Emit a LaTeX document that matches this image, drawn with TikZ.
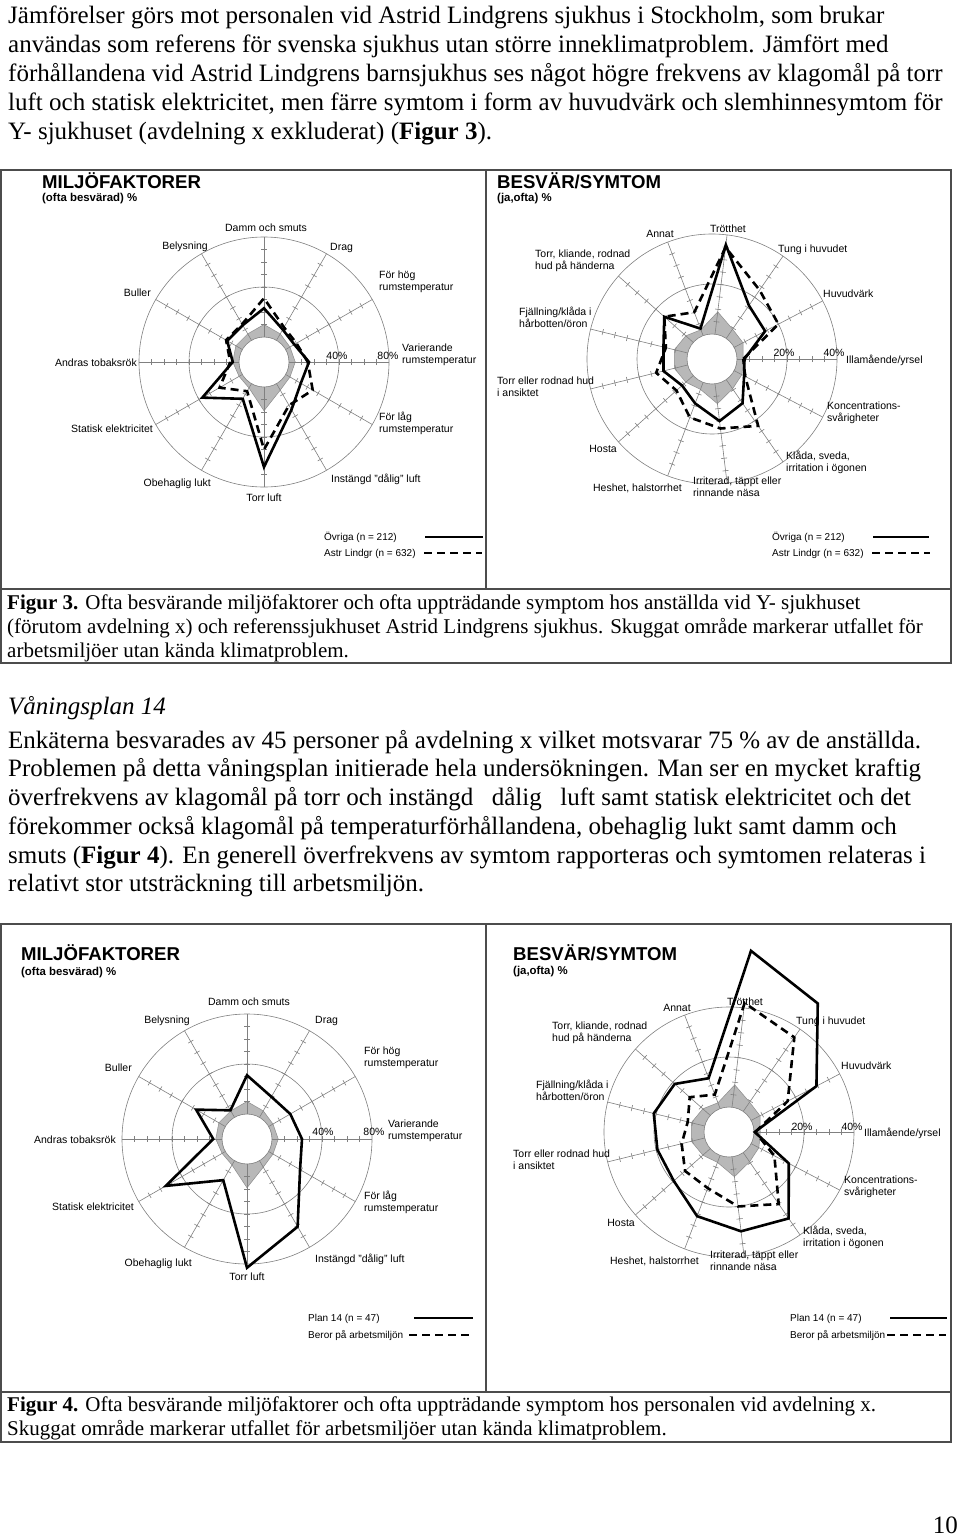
\documentclass[tikz,border=0pt]{standalone}
\usepackage{fontspec}
\setmainfont{Liberation Serif}
\setsansfont{Liberation Sans}
\usetikzlibrary{calc}

% grid of a radar chart: #1 centre, #2 number of axes
\newcommand\rgrid[2]{%
  \pgfmathsetmacro\rstepang{360/#2}%
  \foreach \k in {1,...,#2} {%
    \begin{scope}[shift={(#1)}, rotate={(\k-1)*\rstepang}]
      \draw[gridl] (25pt,0pt) -- (125pt,0pt);
      \foreach \t in {1,...,7} \draw[gridl] ({25+12.5*\t},-3) -- ({25+12.5*\t},3);
    \end{scope}
  }%
  \draw[gridl] (#1) circle (25pt) (#1) circle (75pt) (#1) circle (125pt);%
}
% polygon points: #1 centre, #2 axes, #3 px per unit, #4 prefix, #5 values
\newcommand\rpts[5]{%
  \foreach \v [count=\i from 0] in {#5} {%
    \coordinate (#4\i) at ($(#1)+({\i*360/#2}:{25+#3*\v})$);%
  }%
}

\begin{document}
\begin{tikzpicture}[x=1pt,y=1pt,
  lab/.style={font=\sffamily\fontsize{10.5}{12}\selectfont, inner sep=0pt, align=left},
  leg/.style={font=\sffamily\fontsize{10}{12}\selectfont, inner sep=0pt, anchor=base west},
  ttl/.style={font=\sffamily\bfseries\fontsize{18.6}{20}\selectfont, inner sep=0pt, anchor=base west},
  sub/.style={font=\sffamily\bfseries\fontsize{11.4}{13}\selectfont, inner sep=0pt, anchor=base west},
  gridl/.style={draw=black!50, line width=0.6pt},
  ser/.style={line width=2.6pt, black, line join=miter},
  dsh/.style={line width=2.6pt, black, dash pattern=on 8pt off 5pt},
  shade/.style={fill=black!28, even odd rule},
  shadeline/.style={draw=black!45, line width=0.5pt},
  body/.style={font=\fontsize{25}{29}\selectfont, inner sep=0pt, anchor=base west},
  capt/.style={font=\fontsize{21}{24}\selectfont, inner sep=0pt, anchor=base west},
  boxl/.style={draw=black!70, line width=1.3pt},
]
\useasboundingbox (0,0) rectangle (960,-1537);
\fill[white] (0,0) rectangle (960,-1537);

% ---------------- body text 1
\node[body] (t1) at (8,-23) {Jämförelser görs mot personalen vid Astrid Lindgrens sjukhus i Stockholm, som brukar};
\node[body] (t2) at (8,-52) {användas som referens för svenska sjukhus utan större inneklimatproblem. Jämfört med};
\node[body] (t3) at (8,-81) {förhållandena vid Astrid Lindgrens barnsjukhus ses något högre frekvens av klagomål på torr};
\node[body] (t4) at (8,-110) {luft och statisk elektricitet, men färre symtom i form av huvudvärk och slemhinnesymtom för};
\node[body] (t5) at (8,-139) {Y- sjukhuset (avdelning x exkluderat) (\textbf{Figur 3}).};

% ---------------- figure 3 frame
\draw[boxl] (1,-170) rectangle (951,-663);
\draw[boxl] (1,-589) -- (951,-589);
\draw[boxl] (486,-170) -- (486,-589);

\coordinate (CA) at (264,-362);
\coordinate (CB) at (712,-359);
\coordinate (CC) at (247,-1139);
\coordinate (CD) at (729,-1132);

% ---- chart A (fig 3 left)
% order: Var, Hog, Drag, Damm, Bely, Buller, Andras, Stat, Obeh, Torr, Inst, Lag
\rpts{CA}{12}{1.25}{Ag}{5,4,6,10,6,6,5,3,4,19,6,4}
\rpts{CA}{12}{1.25}{As}{16,8,10,23,14,14,5,37,14,64,24,14}
\rpts{CA}{12}{1.25}{Ad}{15,10,12,31,15,15,7,21,7,50,20,25}
\fill[shade] (Ag0) \foreach \i in {1,...,11} {-- (Ag\i)} -- cycle (CA) circle (25pt);
\draw[shadeline] (Ag0) \foreach \i in {1,...,11} {-- (Ag\i)} -- cycle;
\rgrid{CA}{12}
\draw[dsh] (Ad0) \foreach \i in {1,...,11} {-- (Ad\i)} -- cycle;
\draw[ser] (As0) \foreach \i in {1,...,11} {-- (As\i)} -- cycle;

\node[ttl] (a0) at (42,-188.5) {MILJÖFAKTORER};
\node[sub] (a00) at (42,-201.5) {(ofta besvärad) \%};
\node[lab, anchor=base] (a1) at (266,-231.5) {Damm och smuts};
\node[lab, anchor=base west] (a2) at (330,-250.5) {Drag};
\node[lab, anchor=base east] (a3) at (208,-249.5) {Belysning};
\node[lab, anchor=base east] (a4) at (151,-296.5) {Buller};
\node[lab, anchor=base west] (a5) at (379,-290.5) {För hög\\rumstemperatur};
\node[lab, anchor=base east] (a6) at (137,-366.5) {Andras tobaksrök};
\node[lab, anchor=base] (a7) at (337,-359.5) {40\%};
\node[lab, anchor=base] (a8) at (388,-359.5) {80\%};
\node[lab, anchor=base west] (a9) at (402,-363.5) {Varierande\\rumstemperatur};
\node[lab, anchor=base east] (a10) at (153,-432.5) {Statisk elektricitet};
\node[lab, anchor=base west] (a11) at (379,-432.5) {För låg\\rumstemperatur};
\node[lab, anchor=base east] (a12) at (211,-486.5) {Obehaglig lukt};
\node[lab, anchor=base west] (a13) at (331,-482.5) {Instängd "dålig" luft};
\node[lab, anchor=base] (a14) at (264,-501.5) {Torr luft};

\node[leg] (la1) at (324,-540.5) {Övriga (n = 212)};
\node[leg] (la2) at (324,-556.5) {Astr Lindgr (n = 632)};
\coordinate (la1a) at (425,-537); \coordinate (la1b) at (483,-537);
\coordinate (la2a) at (424,-553); \coordinate (la2b) at (482,-553);
\draw[ser] (la1a) -- (la1b);
\draw[dsh] (la2a) -- (la2b);

% ---- chart B (fig 3 right)
% order: Illa, Huvud, Tung, Trott, Annat, TorrKli, Fjall, TorrAns, Hosta, Heshet, Irri, Klada, Konc
\rpts{CB}{13}{2.5}{Bg}{2.5,4,4.5,9,2.5,4,5.5,5.5,4,3,8,4.5,3.5}
\rpts{CB}{13}{2.5}{Bs}{3,14,16,36,3,15.5,10,10,6,9,15,11.5,4.5}
\rpts{CB}{13}{2.5}{Bd}{2.5,20,23.5,35,10,15.5,9,13,9,15,18,22.5,5}
\fill[shade] (Bg0) \foreach \i in {1,...,12} {-- (Bg\i)} -- cycle (CB) circle (25pt);
\draw[shadeline] (Bg0) \foreach \i in {1,...,12} {-- (Bg\i)} -- cycle;
\rgrid{CB}{13}
\draw[dsh] (Bd0) \foreach \i in {1,...,12} {-- (Bd\i)} -- cycle;
\draw[ser] (Bs0) \foreach \i in {1,...,12} {-- (Bs\i)} -- cycle;

\node[ttl] (b0) at (497,-188.5) {BESVÄR/SYMTOM};
\node[sub] (b00) at (497,-201.5) {(ja,ofta) \%};
\node[lab, anchor=base] (b1) at (728,-232.5) {Trötthet};
\node[lab, anchor=base] (b2) at (660,-237.8) {Annat};
\node[lab, anchor=base west] (b3) at (778,-252.5) {Tung i huvudet};
\node[lab, anchor=base west] (b4) at (535,-269) {Torr, kliande, rodnad\\hud på händerna};
\node[lab, anchor=base west] (b5) at (823,-297.5) {Huvudvärk};
\node[lab, anchor=base west] (b6) at (519,-327.5) {Fjällning/klåda i\\hårbotten/öron};
\node[lab, anchor=base] (b7) at (784,-356) {20\%};
\node[lab, anchor=base] (b8) at (834,-356) {40\%};
\node[lab, anchor=base west] (b9) at (846,-363.5) {Illamående/yrsel};
\node[lab, anchor=base west] (b10) at (497,-396) {Torr eller rodnad hud\\i ansiktet};
\node[lab, anchor=base west] (b11) at (827,-421.5) {Koncentrations-\\svårigheter};
\node[lab, anchor=base east] (b12) at (617,-452.5) {Hosta};
\node[lab, anchor=base west] (b13) at (786,-471) {Klåda, sveda,\\irritation i ögonen};
\node[lab, anchor=base east] (b14) at (682,-491) {Heshet, halstorrhet};
\node[lab, anchor=base west] (b15) at (693,-496) {Irriterad, täppt eller\\rinnande näsa};

\node[leg] (lb1) at (772,-540.5) {Övriga (n = 212)};
\node[leg] (lb2) at (772,-556.5) {Astr Lindgr (n = 632)};
\coordinate (lb1a) at (873,-537); \coordinate (lb1b) at (929,-537);
\coordinate (lb2a) at (872,-553); \coordinate (lb2b) at (930,-553);
\draw[ser] (lb1a) -- (lb1b);
\draw[dsh] (lb2a) -- (lb2b);

\node[capt] (c1) at (7,-609.5) {\textbf{Figur 3.} Ofta besvärande miljöfaktorer och ofta uppträdande symptom hos anställda vid Y- sjukhuset};
\node[capt] (c2) at (7,-633.5) {(förutom avdelning x) och referenssjukhuset Astrid Lindgrens sjukhus. Skuggat område markerar utfallet för};
\node[capt] (c3) at (7,-657.5) {arbetsmiljöer utan kända klimatproblem.};

% ---------------- body text 2
\node[body] (u0) at (8,-714) {\itshape Våningsplan 14};
\node[body] (u1) at (8,-748) {Enkäterna besvarades av 45 personer på avdelning x vilket motsvarar 75 \% av de anställda.};
\node[body] (u2) at (8,-776) {Problemen på detta våningsplan initierade hela undersökningen. Man ser en mycket kraftig};
\node[body] (u3) at (8,-805) {överfrekvens av klagomål på torr och instängd~\hspace{6pt} dålig~\hspace{6pt} luft samt statisk elektricitet och det};
\node[body] (u4) at (8,-834) {förekommer också klagomål på temperaturförhållandena, obehaglig lukt samt damm och};
\node[body] (u5) at (8,-863) {smuts (\textbf{Figur 4}). En generell överfrekvens av symtom rapporteras och symtomen relateras i};
\node[body] (u6) at (8,-891) {relativt stor utsträckning till arbetsmiljön.};

% ---------------- figure 4 frame
\draw[boxl] (1,-924) rectangle (951,-1442);
\draw[boxl] (1,-1392) -- (951,-1392);
\draw[boxl] (486,-924) -- (486,-1392);

% ---- chart C (fig 4 left)
\rpts{CC}{12}{1.25}{Cg}{5,4,6,10,6,6,5,3,4,19,6,4}
\rpts{CC}{12}{1.25}{Cs}{24,20,19,31,6.5,27,7,55,18,83,61,29}
\fill[shade] (Cg0) \foreach \i in {1,...,11} {-- (Cg\i)} -- cycle (CC) circle (25pt);
\draw[shadeline] (Cg0) \foreach \i in {1,...,11} {-- (Cg\i)} -- cycle;
\rgrid{CC}{12}
\draw[ser] (Cs0) \foreach \i in {1,...,11} {-- (Cs\i)} -- cycle;

\node[ttl] (d0) at (21,-960.5) {MILJÖFAKTORER};
\node[sub] (d00) at (21,-975) {(ofta besvärad) \%};
\node[lab, anchor=base] (d1) at (249,-1005) {Damm och smuts};
\node[lab, anchor=base west] (d2) at (315,-1023.5) {Drag};
\node[lab, anchor=base east] (d3) at (190,-1023.5) {Belysning};
\node[lab, anchor=base east] (d4) at (132,-1071) {Buller};
\node[lab, anchor=base west] (d5) at (364,-1066) {För hög\\rumstemperatur};
\node[lab, anchor=base east] (d6) at (116,-1143) {Andras tobaksrök};
\node[lab, anchor=base] (d7) at (323,-1135.5) {40\%};
\node[lab, anchor=base] (d8) at (374,-1135.5) {80\%};
\node[lab, anchor=base west] (d9) at (388,-1139.5) {Varierande\\rumstemperatur};
\node[lab, anchor=base east] (d10) at (134,-1210) {Statisk elektricitet};
\node[lab, anchor=base west] (d11) at (364,-1211) {För låg\\rumstemperatur};
\node[lab, anchor=base east] (d12) at (192,-1266) {Obehaglig lukt};
\node[lab, anchor=base west] (d13) at (315,-1262) {Instängd "dålig" luft};
\node[lab, anchor=base] (d14) at (247,-1280) {Torr luft};

\node[leg] (ld1) at (308,-1321.5) {Plan 14 (n = 47)};
\node[leg] (ld2) at (308,-1338.5) {Beror på arbetsmiljön};
\coordinate (ld1a) at (414,-1318); \coordinate (ld1b) at (473,-1318);
\coordinate (ld2a) at (409,-1335); \coordinate (ld2b) at (471,-1335);
\draw[ser] (ld1a) -- (ld1b);
\draw[dsh] (ld2a) -- (ld2b);

% ---- chart D (fig 4 right)
\rpts{CD}{13}{2.5}{Dg}{2.5,4,4.5,9,2.5,4,5.5,5.5,4,3,8,4.5,3.5}
\rpts{CD}{13}{2.5}{Ds}{0.3,29.5,52.5,63,13,19,21,19.5,19.5,26,30,32,17}
\rpts{CD}{13}{2.5}{Dd}{0.5,16.5,36,42,6,11,7,9.5,13.5,14,20,25,10.5}
\fill[shade] (Dg0) \foreach \i in {1,...,12} {-- (Dg\i)} -- cycle (CD) circle (25pt);
\draw[shadeline] (Dg0) \foreach \i in {1,...,12} {-- (Dg\i)} -- cycle;
\rgrid{CD}{13}

\node[ttl] (e0) at (513,-960.5) {BESVÄR/SYMTOM};
\node[sub] (e00) at (513,-974.5) {(ja,ofta) \%};
\node[lab, anchor=base] (e1) at (745,-1005) {Trötthet};
\node[lab, anchor=base] (e2) at (677,-1011) {Annat};
\node[lab, anchor=base west] (e3) at (796,-1024.5) {Tung i huvudet};
\node[lab, anchor=base west] (e4) at (552,-1041) {Torr, kliande, rodnad\\hud på händerna};
\node[lab, anchor=base west] (e5) at (841,-1069.5) {Huvudvärk};
\node[lab, anchor=base west] (e6) at (536,-1100) {Fjällning/klåda i\\hårbotten/öron};
\node[lab, anchor=base] (e7) at (802,-1130) {20\%};
\node[lab, anchor=base] (e8) at (852,-1130) {40\%};
\node[lab, anchor=base west] (e9) at (864,-1136) {Illamående/yrsel};
\node[lab, anchor=base west] (e10) at (513,-1169.5) {Torr eller rodnad hud\\i ansiktet};
\node[lab, anchor=base west] (e11) at (844,-1195) {Koncentrations-\\svårigheter};
\node[lab, anchor=base east] (e12) at (635,-1226) {Hosta};
\node[lab, anchor=base west] (e13) at (803,-1246) {Klåda, sveda,\\irritation i ögonen};
\node[lab, anchor=base east] (e14) at (699,-1264.5) {Heshet, halstorrhet};
\node[lab, anchor=base west] (e15) at (710,-1270) {Irriterad, täppt eller\\rinnande näsa};

\draw[dsh] (Dd0) \foreach \i in {1,...,12} {-- (Dd\i)} -- cycle;
\draw[ser] (Ds0) \foreach \i in {1,...,12} {-- (Ds\i)} -- cycle;

\node[leg] (le1) at (790,-1321.5) {Plan 14 (n = 47)};
\node[leg] (le2) at (790,-1338.5) {Beror på arbetsmiljön};
\coordinate (le1a) at (890,-1318); \coordinate (le1b) at (947,-1318);
\coordinate (le2a) at (887,-1335); \coordinate (le2b) at (946,-1335);
\draw[ser] (le1a) -- (le1b);
\draw[dsh] (le2a) -- (le2b);

\node[capt] (f1) at (7,-1411.5) {\textbf{Figur 4.} Ofta besvärande miljöfaktorer och ofta uppträdande symptom hos personalen vid avdelning x.};
\node[capt] (f2) at (7,-1435.5) {Skuggat område markerar utfallet för arbetsmiljöer utan kända klimatproblem.};

\node[body, anchor=base east] (pg) at (958,-1533) {10};
\end{tikzpicture}
\end{document}
